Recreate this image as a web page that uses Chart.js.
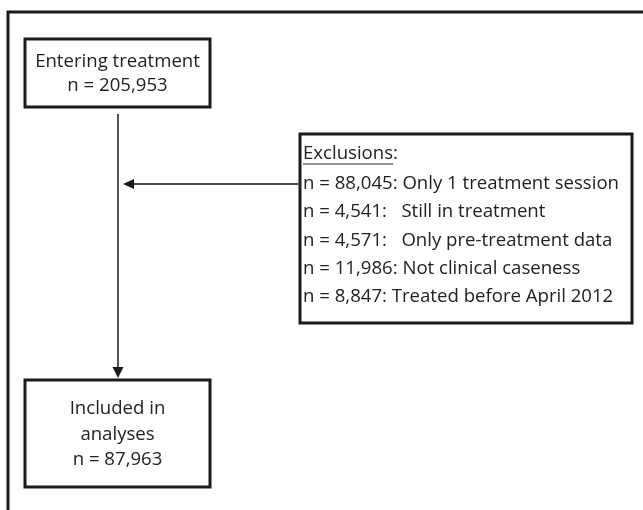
<!DOCTYPE html>
<html>
<head>
<meta charset="utf-8">
<script src="https://cdn.jsdelivr.net/npm/chart.js@4/dist/chart.umd.min.js"></script>
<style>
    html, body { margin: 0; padding: 0; background: #fff; }
    #wrap { width: 643px; height: 510px; position: relative; }
</style>
</head>
<body>
<div id="wrap"><canvas id="flowChart"></canvas></div>
<script>
// flow numbers
let enteringLabel = ['Entering treatment'];
let enteringCount = 205953;
let exclusionCounts = [88045, 4541, 4571, 11986, 8847];
let exclusionReasons = ['Only 1 treatment session', 'Still in treatment', 'Only pre-treatment data', 'Not clinical caseness', 'Treated before April 2012'];
let exclusionGaps = ['', '  ', '  ', '', ''];
let includedLabel = ['Included in', 'analyses'];
let includedCount = 87963;

// layout in scale units (same as pixels, 643 x 510)
let layout = {
    frame: { x: 8, y: 12 },
    topBox: { x1: 25, y1: 39, x2: 210, y2: 107, lines: [62, 86] },
    exclBox: { x1: 300, y1: 134, x2: 632, y2: 323, textX: 303, lines: [154, 184, 212, 241, 269, 297] },
    bottomBox: { x1: 25, y1: 380, x2: 210, y2: 487, lines: [409, 435, 460] },
    flowX: 118,
    arrowY: 184
};

let fontFamily = '"Open Sans", Lato, sans-serif';
let fontSize = 18.6;
let textColor = '#222222';
let lineColor = '#1a1a1a';

function fmt(n) {
    return n.toLocaleString('en-US');
}

const flowPlugin = {
    id: 'flowPlugin',
    afterDraw: function (chart) {
        let ctx = chart.ctx;
        let sx = chart.scales.x;
        let sy = chart.scales.y;
        let px = function (v) { return sx.getPixelForValue(v); };
        let py = function (v) { return sy.getPixelForValue(v); };

        ctx.save();
        ctx.strokeStyle = lineColor;
        ctx.lineCap = 'butt';

        // outer frame (top + left)
        ctx.lineWidth = 3;
        ctx.beginPath();
        ctx.moveTo(px(643), py(layout.frame.y));
        ctx.lineTo(px(layout.frame.x), py(layout.frame.y));
        ctx.lineTo(px(layout.frame.x), py(510));
        ctx.stroke();

        // boxes
        [layout.topBox, layout.exclBox, layout.bottomBox].forEach(function (b) {
            ctx.lineWidth = 3;
            ctx.strokeRect(px(b.x1), py(b.y1), px(b.x2) - px(b.x1), py(b.y2) - py(b.y1));
        });

        // vertical flow line
        ctx.lineWidth = 1.5;
        ctx.beginPath();
        ctx.moveTo(px(layout.flowX), py(layout.topBox.y2 + 7));
        ctx.lineTo(px(layout.flowX), py(layout.bottomBox.y1 - 12));
        ctx.stroke();
        ctx.fillStyle = lineColor;
        ctx.beginPath();
        ctx.moveTo(px(layout.flowX), py(layout.bottomBox.y1 - 2));
        ctx.lineTo(px(layout.flowX - 5.5), py(layout.bottomBox.y1 - 13));
        ctx.lineTo(px(layout.flowX + 5.5), py(layout.bottomBox.y1 - 13));
        ctx.closePath();
        ctx.fill();

        // exclusion arrow
        ctx.strokeStyle = '#4a4a4a';
        ctx.lineWidth = 2;
        ctx.beginPath();
        ctx.moveTo(px(layout.exclBox.x1), py(layout.arrowY));
        ctx.lineTo(px(layout.flowX + 14), py(layout.arrowY));
        ctx.stroke();
        ctx.fillStyle = '#1a1a1a';
        ctx.beginPath();
        ctx.moveTo(px(layout.flowX + 5), py(layout.arrowY));
        ctx.lineTo(px(layout.flowX + 16), py(layout.arrowY - 5));
        ctx.lineTo(px(layout.flowX + 16), py(layout.arrowY + 5));
        ctx.closePath();
        ctx.fill();

        // texts
        ctx.fillStyle = textColor;
        ctx.font = fontSize + 'px ' + fontFamily;
        ctx.textBaseline = 'middle';

        let topLines = enteringLabel.concat(['n = ' + fmt(enteringCount)]);
        ctx.textAlign = 'center';
        let cx = px((layout.topBox.x1 + layout.topBox.x2) / 2);
        topLines.forEach(function (t, i) {
            ctx.fillText(t, cx, py(layout.topBox.lines[i]));
        });

        let botLines = includedLabel.concat(['n = ' + fmt(includedCount)]);
        botLines.forEach(function (t, i) {
            ctx.fillText(t, cx, py(layout.bottomBox.lines[i]));
        });

        ctx.textAlign = 'left';
        let tx = px(layout.exclBox.textX);
        let head = 'Exclusions';
        ctx.fillText(head + ':', tx, py(layout.exclBox.lines[0]));
        let hw = ctx.measureText(head).width;
        ctx.lineWidth = 1.2;
        ctx.strokeStyle = textColor;
        ctx.beginPath();
        ctx.moveTo(tx, py(layout.exclBox.lines[0] + 10));
        ctx.lineTo(tx + hw, py(layout.exclBox.lines[0] + 10));
        ctx.stroke();

        exclusionCounts.forEach(function (n, i) {
            let t = 'n = ' + fmt(n) + ': ' + exclusionGaps[i] + exclusionReasons[i];
            ctx.fillText(t, tx, py(layout.exclBox.lines[i + 1]));
        });
        ctx.restore();
    }
};

new Chart(document.getElementById('flowChart'), {
    type: 'scatter',
    data: {
        datasets: [{
            data: [],
            pointRadius: 0
        }]
    },
    options: {
        responsive: true,
        maintainAspectRatio: false,
        animation: false,
        layout: { padding: 0 },
        plugins: {
            legend: { display: false },
            tooltip: { enabled: false }
        },
        scales: {
            x: { type: 'linear', min: 0, max: 643, display: false },
            y: { type: 'linear', min: 0, max: 510, reverse: true, display: false }
        }
    },
    plugins: [flowPlugin]
});
</script>
</body>
</html>
